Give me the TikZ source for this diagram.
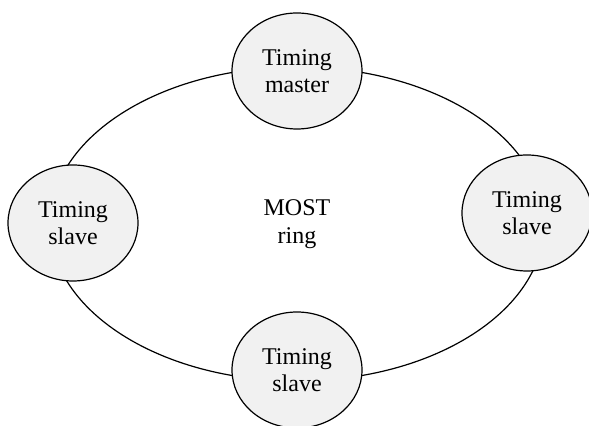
\documentclass[tikz,border=0pt]{standalone}
\usepackage{fontspec}
\setmainfont{Liberation Serif}
\usetikzlibrary{shapes.geometric}
\definecolor{nodeFill}{RGB}{241,241,241}
\begin{document}
\begin{tikzpicture}
[x=0.5pt,y=-0.5pt,
  ringDecorate/.style={shape=ellipse,draw,line width=0.6pt,inner sep=0pt,
    minimum width=247pt,minimum height=157pt,align=center},
  nodeDecorate/.style={shape=ellipse,draw,line width=0.6pt,fill=nodeFill,
    inner sep=0pt,minimum width=65pt,minimum height=58pt,align=center},
  font=\fontsize{12}{13.8}\selectfont]
\useasboundingbox (0,0) rectangle (589,426);
%% ring
\node (ring) at (297,224) [ringDecorate] {MOST\\ring};
%% nodes on the ring
\foreach \nodename/\x/\y/\role in {
  master/297/71/master, left/73/223/slave,
  right/527/213/slave, bottom/297/370/slave}
{
  \node (\nodename) at (\x,\y) [nodeDecorate] {Timing\\\role};
}
\end{tikzpicture}
\end{document}
